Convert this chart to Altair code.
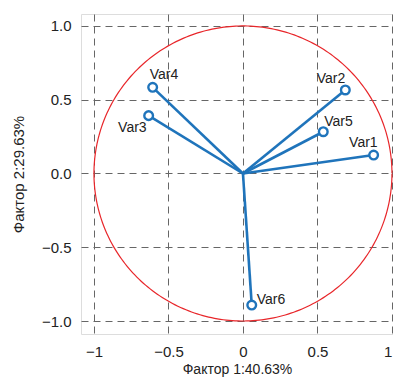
import altair as alt
import pandas as pd

names = ["Var1", "Var2", "Var3", "Var4", "Var5", "Var6"]
f1 = [0.877, 0.687, -0.633, -0.606, 0.539, 0.059]
f2 = [0.125, 0.566, 0.392, 0.584, 0.283, -0.892]
tick_vals = [-1, -0.5, 0, 0.5, 1]
x_title = "Фактор 1:40.63%"
y_title = "Фактор 2:29.63%"

df = pd.DataFrame({"name": names, "x": f1, "y": f2})

FONT = "Liberation Sans"
BLUE = "#1f74bb"

xs = alt.Scale(domain=[-1.087, 1.007], nice=False, zero=False)
ys = alt.Scale(domain=[-1.088, 1.081], nice=False, zero=False)

xax = alt.Axis(values=tick_vals, format="~g", title=x_title, ticks=False, domain=False,
               labelPadding=10, titlePadding=3, labelFontSize=15, titleFontSize=14,
               labelAlign={"condition": {"test": "datum.value === 1", "value": "right"}, "value": "center"},
               labelColor="#222", titleColor="#222", titleFontWeight="normal",
               grid=True, gridDash=[7, 5], gridColor="#666", gridWidth=1)
yax = alt.Axis(values=tick_vals, format=".1f", title=y_title, ticks=False, domain=False,
               labelPadding=10, titlePadding=15, labelFontSize=15, titleFontSize=15,
               labelColor="#222", titleColor="#222", titleFontWeight="normal",
               grid=True, gridDash=[7, 5], gridColor="#666", gridWidth=1)

base = alt.Chart(df)

circle = alt.Chart(alt.sequence(0, 6.3, 0.02, as_="t")).transform_calculate(
    cx="cos(datum.t)", cy="sin(datum.t)"
).mark_line(color="#e8262a", strokeWidth=1.2).encode(
    x=alt.X("cx:Q", scale=xs, axis=xax),
    y=alt.Y("cy:Q", scale=ys, axis=yax),
    order="t:Q",
)

rules = base.transform_calculate(ox="0", oy="0").mark_rule(
    color=BLUE, strokeWidth=2.6
).encode(
    x=alt.X("ox:Q", scale=xs), y=alt.Y("oy:Q", scale=ys), x2="x:Q", y2="y:Q"
)

points = base.mark_point(shape="circle", filled=True, fill="white", stroke=BLUE,
                         strokeWidth=2.4, size=75, opacity=1).encode(
    x=alt.X("x:Q", scale=xs), y=alt.Y("y:Q", scale=ys)
)

offsets = {
    "Var1": ("right", 4, -12),
    "Var2": ("right", 0, -11),
    "Var3": ("right", -2, 12),
    "Var4": ("left", -3, -12),
    "Var5": ("left", 1, -10),
    "Var6": ("left", 5, -5),
}

labels = []
for n, (al, dx, dy) in offsets.items():
    labels.append(
        base.transform_filter(alt.datum.name == n).mark_text(
            align=al, baseline="middle", dx=dx, dy=dy, font=FONT, fontSize=14, color="#222"
        ).encode(x=alt.X("x:Q", scale=xs), y=alt.Y("y:Q", scale=ys), text="name:N")
    )

chart = alt.layer(circle, rules, points, *labels).properties(
    width=312, height=320,
    autosize=alt.AutoSizeParams(type="none"),
    padding={"left": 73, "top": 6, "right": 0, "bottom": 44},
).configure_view(stroke="#555", strokeWidth=1.3).configure(font=FONT)

chart.save("out.html", embed_options={"renderer": "svg", "actions": False})
